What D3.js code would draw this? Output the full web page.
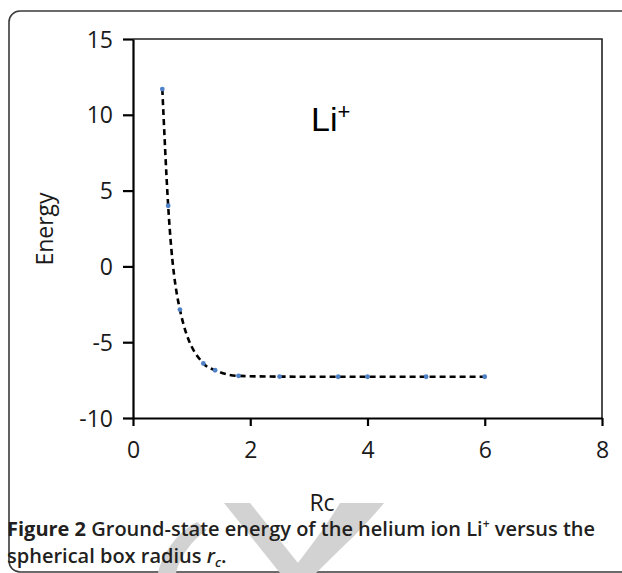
<!DOCTYPE html>
<html>
<head>
<meta charset="utf-8">
<script src="https://cdn.jsdelivr.net/npm/d3@7/dist/d3.min.js"></script>
<style>
  html, body { margin: 0; padding: 0; background: #fff; }
  svg { display: block; }
</style>
</head>
<body>
<svg id="chart" width="622" height="573"></svg>
<script>
// ---- Data ----
const rc = [0.5, 0.6, 0.8, 1.2, 1.4, 1.8, 2.5, 3.5, 4.0, 5.0, 6.0];
const energy = [11.7, 4.0, -2.85, -6.4, -6.85, -7.22, -7.27, -7.28, -7.28, -7.28, -7.28];
const xTicks = [0, 2, 4, 6, 8];
const yTicks = [-10, -5, 0, 5, 10, 15];

const svg = d3.select("#chart");
const plot = { left: 133, right: 602, top: 39, bottom: 418 };

const x = d3.scaleLinear().domain([0, 8]).range([plot.left, plot.right]);
const y = d3.scaleLinear().domain([-10, 15]).range([plot.bottom, plot.top]);

// outer rounded frame
svg.append("rect")
  .attr("x", 9).attr("y", 11).attr("width", 720).attr("height", 561)
  .attr("rx", 11).attr("ry", 11)
  .attr("fill", "none").attr("stroke", "#3a3a3a").attr("stroke-width", 1.6);

// faint watermark shapes behind caption
const wm = svg.append("g").attr("fill", "#d2d2d2").attr("stroke", "none");
wm.append("path").attr("d", "M224,503 L250,503 L306,573 L280,573 Z");
wm.append("path").attr("d", "M340,503 L384,503 C362,530 334,555 316,573 L290,573 C308,550 325,528 340,503 Z");
wm.append("path").attr("d", "M197,522 C178,532 163,552 158,573 L176,573 C180,556 192,540 207,530 Z");

// plot frame (top and right)
svg.append("path")
  .attr("d", `M${plot.left},${plot.top} H${plot.right} V${plot.bottom}`)
  .attr("fill", "none").attr("stroke", "#222").attr("stroke-width", 1.6);

const font = "'Open Sans', 'DejaVu Sans', sans-serif";

// x axis
const xAxis = svg.append("g")
  .attr("transform", `translate(0,${plot.bottom})`)
  .call(d3.axisBottom(x).tickValues(xTicks).tickFormat(d => String(d))
    .tickSize(8).tickPadding(15).tickSizeOuter(0));
// y axis
const yAxis = svg.append("g")
  .attr("transform", `translate(${plot.left},0)`)
  .call(d3.axisLeft(y).tickValues(yTicks).tickFormat(d => String(d))
    .tickSize(10).tickPadding(10).tickSizeOuter(0));

[xAxis, yAxis].forEach(g => {
  g.select(".domain").attr("stroke", "#000").attr("stroke-width", 2.2);
  g.selectAll(".tick line").attr("stroke", "#000").attr("stroke-width", 2.2);
  g.selectAll(".tick text")
    .attr("fill", "#1a1a1a")
    .style("font-family", font)
    .style("font-size", "23px");
});
yAxis.selectAll(".tick text").attr("dy", "0.35em");
xAxis.selectAll(".tick text").attr("dy", "0.72em");

// axis titles
svg.append("text")
  .attr("transform", `translate(53,229) rotate(-90)`)
  .attr("text-anchor", "middle")
  .style("font-family", font).style("font-size", "23px")
  .attr("fill", "#1a1a1a")
  .text("Energy");

svg.append("text")
  .attr("x", 322).attr("y", 511)
  .attr("text-anchor", "middle")
  .style("font-family", font).style("font-size", "23px")
  .attr("fill", "#1a1a1a")
  .text("Rc");

// in-plot label Li+
const li = svg.append("text")
  .attr("x", 311).attr("y", 131)
  .style("font-family", "'Liberation Sans', Arial, sans-serif")
  .style("font-size", "34px").attr("fill", "#000");
li.append("tspan").text("Li");
li.append("tspan").attr("dy", -12).style("font-size", "22px").text("+");

// data
const pts = rc.map((v, i) => [v, energy[i]]);

const line = d3.line()
  .x(d => x(d[0])).y(d => y(d[1]))
  .curve(d3.curveMonotoneX);

svg.append("path")
  .datum(pts)
  .attr("d", line)
  .attr("fill", "none")
  .attr("stroke", "#000")
  .attr("stroke-width", 2.6)
  .attr("stroke-dasharray", "6,4");

svg.append("g").selectAll("circle")
  .data(pts).join("circle")
  .attr("cx", d => x(d[0])).attr("cy", d => y(d[1]))
  .attr("r", 2.4)
  .attr("fill", "#4f81c7");

// caption
const capSize = 20;
const cap1 = svg.append("text")
  .attr("x", 7).attr("y", 536)
  .style("font-family", font).style("font-size", capSize + "px")
  .attr("fill", "#231f20");
cap1.append("tspan").style("font-weight", 700).text("Figure 2");
cap1.append("tspan").style("font-weight", 600).text(" Ground-state energy of the helium ion Li");
cap1.append("tspan").style("font-weight", 600).style("font-size", "12px").attr("dy", -8).text("+");
cap1.append("tspan").style("font-weight", 600).attr("dy", 8).text(" versus the");

const cap2 = svg.append("text")
  .attr("x", 7).attr("y", 563)
  .style("font-family", font).style("font-size", capSize + "px")
  .style("font-weight", 600)
  .attr("fill", "#231f20");
cap2.append("tspan").text("spherical box radius ");
cap2.append("tspan").style("font-style", "italic").text("r");
cap2.append("tspan").style("font-style", "italic").style("font-size", "13px").attr("dy", 4).text("c");
cap2.append("tspan").attr("dy", -4).text(".");
</script>
</body>
</html>
